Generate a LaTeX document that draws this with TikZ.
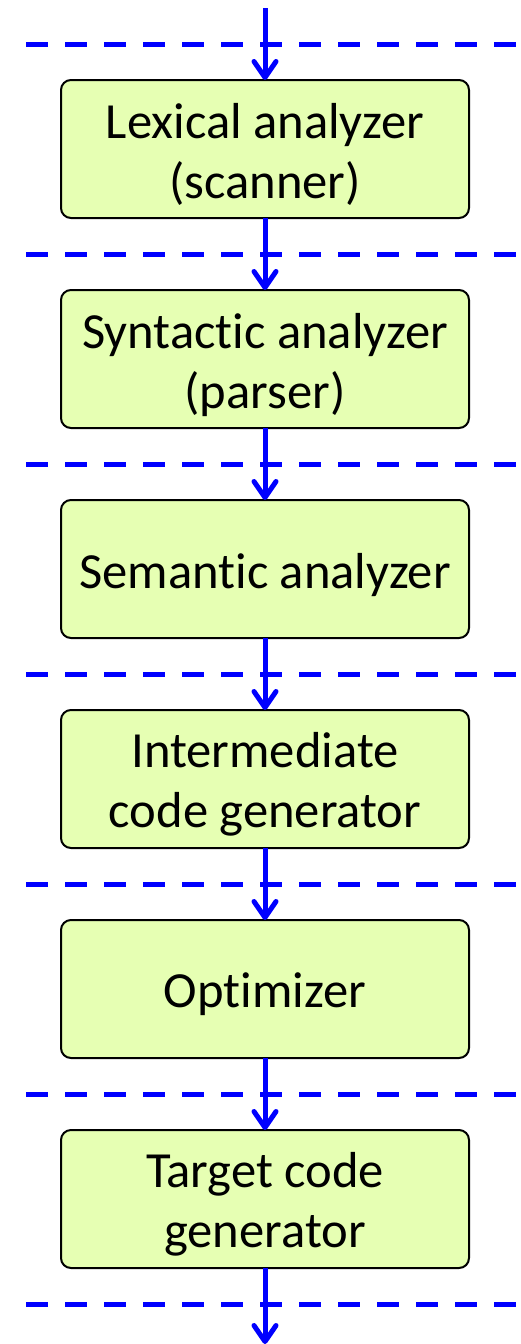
\documentclass[tikz,border=0pt]{standalone}
\usepackage{fontspec}
\setmainfont[Ligatures=NoCommon]{Carlito}
\usepackage{xcolor}
\usepackage{tikz}
\usetikzlibrary{positioning,arrows.meta,calc}
\definecolor{phasefill}{RGB}{230,255,179}
\definecolor{flowblue}{RGB}{0,0,255}

\begin{document}
\begin{tikzpicture}[font=\fontsize{25.3pt}{30pt}\selectfont, node distance=36pt,
  phase/.style={draw=black, line width=1pt, rounded corners=5pt, fill=phasefill, minimum width=204pt, minimum height=69pt, inner sep=0pt, outer sep=0pt,
    label={[align=center, yshift=-2.8pt]center:#1}},
  flow/.style={draw=flowblue, line width=2.5pt, -{Straight Barb[length=8pt,width=11pt,round]}},
  cut/.style={draw=flowblue, line width=2.5pt, dash pattern=on 11pt off 8.5pt}]
\useasboundingbox (0,0) rectangle (260pt,-672pt);
\coordinate (start) at (132.5pt,-4pt);
\coordinate (left) at (13pt,0); \coordinate (right) at (262pt,0);
\node[phase={Lexical analyzer\\(scanner)}] (lex) at (132.5pt,-74.5pt) {};
\node[phase={Syntactic analyzer\\(parser)}, below=of lex] (syn) {};
\node[phase={Semantic analyzer}, below=of syn] (sem) {};
\node[phase={Intermediate\\code generator}, below=of sem] (inter) {};
\node[phase={Optimizer}, below=of inter] (opt) {};
\node[phase={Target code\\generator}, below=of opt] (target) {};
\coordinate (stop) at (132.5pt,-672pt);

% dashed cuts between the phases
\coordinate (m0) at (0,-22pt);
\coordinate (m6) at (0,-652pt);
\foreach \a/\b/\m in {lex/syn/m1, syn/sem/m2, sem/inter/m3, inter/opt/m4, opt/target/m5}
  \coordinate (\m) at ($(\a.south)!0.5!(\b.north)$);
\foreach \m in {m0,m1,m2,m3,m4,m5,m6}
  \draw[cut] (left |- \m) -- (right |- \m);

\draw[flow] (start) -- (lex.north);
\draw[flow] (lex.south) -- (syn.north);
\draw[flow] (syn.south) -- (sem.north);
\draw[flow] (sem.south) -- (inter.north);
\draw[flow] (inter.south) -- (opt.north);
\draw[flow] (opt.south) -- (target.north);
\draw[flow] (target.south) -- (stop);
\end{tikzpicture}
\end{document}
